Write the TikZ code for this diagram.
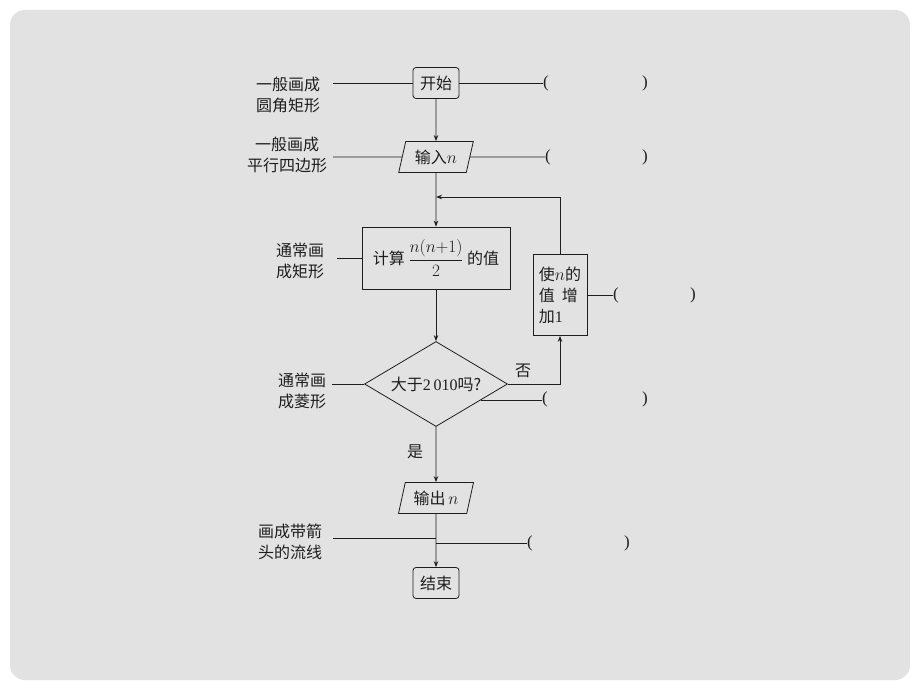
\documentclass[tikz,border=0pt]{standalone}
\usepackage{fontspec}
\setmainfont{Liberation Serif}
\newfontfamily\cjk{Noto Sans CJK SC}
\usetikzlibrary{shapes.geometric,arrows.meta,calc}
\definecolor{bgc}{RGB}{226,226,226}
\definecolor{ink}{RGB}{30,30,30}
\begin{document}
\begin{tikzpicture}[x=1pt,y=-1pt,
  ln/.style={line width=0.8pt, draw=ink},
  arr/.style={ln, -{Stealth[length=6pt,width=4.5pt]}},
  zh/.style={text=ink, font=\cjk\fontsize{16}{21}\selectfont},
  lab/.style={zh, align=center, inner sep=0pt},
  paren/.style={text=ink, font=\fontsize{17}{19}\selectfont, inner sep=0pt},
  rbox/.style={zh, ln, rounded corners=3pt, inner sep=0pt, minimum width=46pt, minimum height=31pt},
  sbox/.style={zh, ln, inner sep=0pt},
  para/.style={zh, ln, trapezium, trapezium left angle=74, trapezium right angle=106,
    trapezium stretches=true, minimum width=75pt, minimum height=31pt, inner sep=2pt},
  dec/.style={zh, ln, diamond, aspect=1.7, minimum width=143pt, minimum height=85pt, inner sep=0pt}
]
\useasboundingbox (0,0) rectangle (920,690);
\fill[white] (0,0) rectangle (920,690);
\fill[bgc, rounded corners=15pt] (10,10) rectangle (910,680);

% main nodes
\node[rbox] (start) at (436,83) {开始};
\node[para] (in) at (436,157) {输入$n$};
\node[sbox, minimum width=148pt, minimum height=62pt] (calc) at (436,258)
  {计算\ {\fontsize{16}{18}\selectfont$\displaystyle\frac{n(n{+}1)}{2}$}\ 的值};
\node[dec] (dia) at (436,384) {大于\textrm{2\,010}吗?};
\node[sbox, minimum width=54pt, minimum height=81pt, align=left] (inc) at (560,295)
  {使$n$的\\值\hspace{7pt}增\\加\textrm{1}};
\node[para] (out) at (436,498) {输出\,$n$};
\node[rbox] (end) at (436,583) {结束};

% labels
\node[lab] (l1) at (288,95) {一般画成\\圆角矩形};
\node[lab] (l2) at (287,155) {一般画成\\平行四边形};
\node[lab] (l3) at (300,261) {通常画\\成矩形};
\node[lab] (l4) at (302,391) {通常画\\成菱形};
\node[lab] (l5) at (290,542) {画成带箭\\头的流线};
\node[zh, inner sep=0pt] (no) at (523,371) {否};
\node[zh, inner sep=0pt] (yes) at (415,452) {是};

% parentheses
\node[paren, anchor=west] (p1) at (543,83) {(};
\node[paren] (q1) at (645,83) {)};
\node[paren, anchor=west] (p2) at (545,157) {(};
\node[paren] (q2) at (645,157) {)};
\node[paren, anchor=west] (p3) at (613,295) {(};
\node[paren] (q3) at (693,295) {)};
\node[paren, anchor=west] (p4) at (542,399) {(};
\node[paren] (q4) at (645,399) {)};
\node[paren, anchor=west] (p5) at (527,543) {(};
\node[paren] (q5) at (627,543) {)};

% coordinates
\coordinate (j) at (436,197);
\coordinate (a1) at (333,83);
\coordinate (a2) at (333,157);
\coordinate (a3) at (337,258);
\coordinate (a4) at (332,384);
\coordinate (a5) at (333,538);
\coordinate (m1) at (436,538);
\coordinate (m2) at (436,543);
\coordinate (d1) at ($(dia.east)!0.38!(dia.south)$);

% flow arrows
\draw[arr] (start.south) -- (in.north);
\draw[arr] (in.south) -- (calc.north);
\draw[arr] (inc.north) |- (j);
\draw[arr] (calc.south) -- (dia.north);
\draw[arr] (dia.east) -| (inc.south);
\draw[arr] (dia.south) -- (out.north);
\draw[arr] (out.south) -- (end.north);

% left pointer lines
\draw[ln] (a1) -- (start.west);
\draw[ln] (a2) -- (in.west);
\draw[ln] (a3) -- (calc.west);
\draw[ln] (a4) -- (dia.west);
\draw[ln] (a5) -- (m1);

% right pointer lines
\draw[ln] (start.east) -- (p1.west);
\draw[ln] (in.east) -- (p2.west);
\draw[ln] (inc.east) -- (p3.west);
\draw[ln] (d1) -- (d1 -| p4.west);
\draw[ln] (m2) -- (p5.west);
\end{tikzpicture}
\end{document}
